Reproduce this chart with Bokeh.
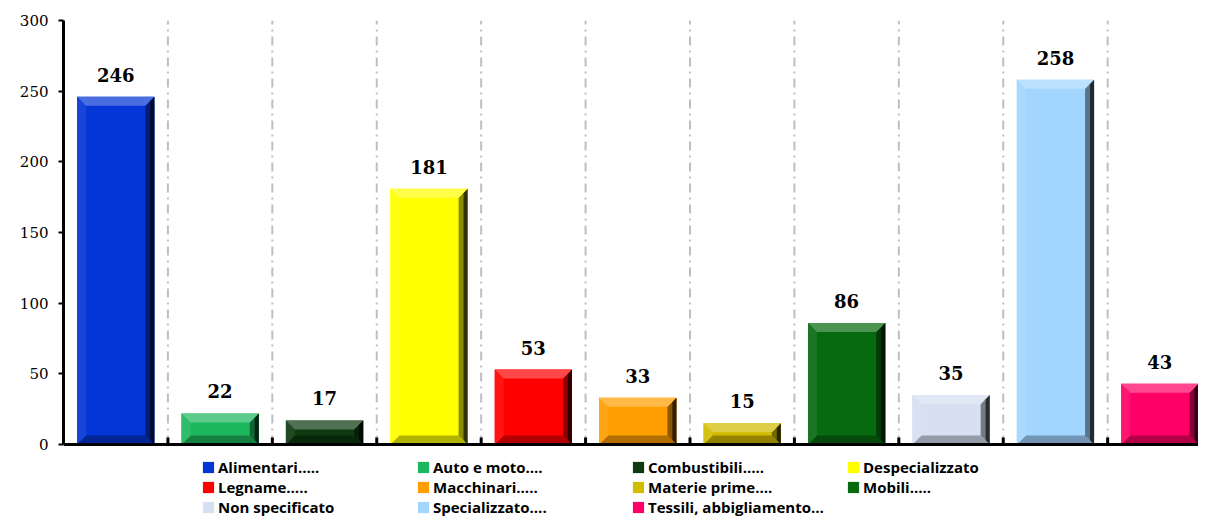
from bokeh.plotting import figure
from bokeh.models import ColumnDataSource, FixedTicker, Legend, LegendItem, Range1d, Span
from bokeh.core.properties import value
from bokeh.embed import file_html
from bokeh.resources import INLINE

categories = ["Alimentari…..", "Auto e moto….", "Combustibili…..", "Despecializzato",
              "Legname…..", "Macchinari…..", "Materie prime….", "Mobili…..",
              "Non specificato", "Specializzato….", "Tessili, abbigliamento…"]
values = [246, 22, 17, 181, 53, 33, 15, 86, 35, 258, 43]
colors = ["#0435D6", "#1DB85E", "#0E3A10", "#FFFF00", "#FF0000", "#FF9E00",
          "#D2BC00", "#086A10", "#D6E0F2", "#A2D6FF", "#FF0066"]
y_ticks = [0, 50, 100, 150, 200, 250, 300]

W, H = 1198, 518
LEFT, TOP = 63, 20
FRAME_W = W - LEFT
FRAME_H = H - TOP
PLOT_H = 424                      # pixel height of the 0..300 span
X_START, X_END = -0.5, 10.37
Y_END = 300
px_y = PLOT_H / Y_END
Y_START = -(FRAME_H - PLOT_H) / px_y
BAR_W = 0.74
px_x = FRAME_W / (X_END - X_START)


def mix(hexc, f):
    r, g, b = int(hexc[1:3], 16), int(hexc[3:5], 16), int(hexc[5:7], 16)
    if f >= 0:
        r, g, b = [int(c + (255 - c) * f) for c in (r, g, b)]
    else:
        r, g, b = [int(c * (1 + f)) for c in (r, g, b)]
    return "#%02x%02x%02x" % (r, g, b)


p = figure(width=W, height=H, output_backend="svg", toolbar_location=None,
           x_range=Range1d(X_START, X_END), y_range=Range1d(Y_START, Y_END),
           min_border_left=LEFT, min_border_right=0, min_border_top=TOP,
           min_border_bottom=0)
p.outline_line_color = None
p.background_fill_color = "white"
p.xaxis.visible = False
p.xgrid.grid_line_color = None
p.ygrid.grid_line_color = None

idx = list(range(len(categories)))
bounds = [i + 0.5 for i in idx]

# dashed vertical separators between categories
p.segment(x0=bounds, y0=[0] * len(bounds), x1=bounds, y1=[Y_END] * len(bounds),
          line_color="#BFBFBF", line_width=2, line_dash="9 5 2 5")

src = ColumnDataSource(dict(x=idx, top=values, color=colors, cat=categories,
                            lab=[str(v) for v in values]))
bars = p.vbar(x="x", top="top", width=BAR_W, fill_color="color", line_color=None, source=src)

# bevel effect
dx = 9 / px_x
dy = 9 / px_y
xs_all, ys_all, cols = [], [], []
for i, v in enumerate(values):
    x0, x1 = i - BAR_W / 2, i + BAR_W / 2
    ix0, ix1 = x0 + dx, x1 - dx
    iy0 = min(dy, v / 2)
    iy1 = max(v - dy, v / 2)
    c = colors[i]
    pieces = [
        ([x0, x1, ix1, ix0], [0, 0, iy0, iy0], mix(c, -0.3)),
        ([x0, x0, ix0, ix0], [0, v, iy1, iy0], mix(c, 0.08)),
        ([x1, x1, ix1, ix1], [0, v, iy1, iy0], mix(c, -0.45)),
        ([x0, x1, ix1, ix0], [v, v, iy1, iy1], mix(c, 0.28)),
    ]
    for xs, ys, col in pieces:
        xs_all.append(xs)
        ys_all.append(ys)
        cols.append(col)
    xs_all.append([x1 - dx * 0.45, x1, x1, x1 - dx * 0.45])
    ys_all.append([iy0 * 0.5, 0, v, v - dy * 0.5])
    cols.append(mix(c, -0.8))
p.patches(xs=xs_all, ys=ys_all, fill_color=cols, line_color=None)

p.text(x="x", y="top", text="lab", source=src, y_offset=-22, text_align="center",
       text_baseline="alphabetic", text_font=value("DejaVu Serif"), text_font_style="bold",
       text_font_size="18px", text_color="black")

# x axis line and inward ticks at category boundaries
p.add_layout(Span(location=0, dimension="width", line_color="black", line_width=3))
p.segment(x0=bounds, y0=[0] * len(bounds), x1=bounds, y1=[7 / px_y] * len(bounds),
          line_color="black", line_width=3)

# y axis
p.yaxis.ticker = FixedTicker(ticks=y_ticks)
p.yaxis.bounds = (0, Y_END)
p.yaxis.axis_line_width = 3
p.yaxis.axis_line_color = "black"
p.yaxis.major_tick_line_width = 2
p.yaxis.major_tick_out = 5
p.yaxis.major_tick_in = 0
p.yaxis.minor_tick_line_color = None
p.yaxis.major_label_text_font = "DejaVu Serif"
p.yaxis.major_label_text_font_size = "15px"
p.yaxis.major_label_text_color = "black"
p.yaxis.major_label_standoff = 10

items = [LegendItem(label=c, renderers=[bars], index=i) for i, c in enumerate(categories)]
legend = Legend(items=items, orientation="horizontal", nrows=3,
                location=(138, 1), label_text_font="Open Sans", label_text_font_style="bold",
                label_text_font_size="15px", label_text_color="black",
                glyph_width=14, glyph_height=14, label_standoff=3, label_width=198,
                label_height=18, spacing=0, padding=0, margin=0,
                border_line_color=None, background_fill_alpha=0)
p.add_layout(legend)

open("out.html", "w").write(file_html(p, INLINE))
